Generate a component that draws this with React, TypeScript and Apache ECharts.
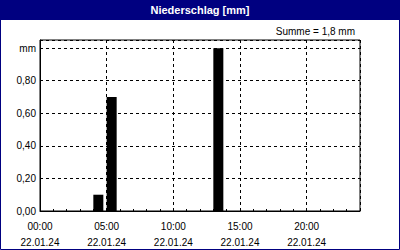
import React, { useEffect, useRef } from "react";
import * as echarts from "echarts";

const title = "Niederschlag [mm]";
const sumText = "Summe = 1,8 mm";
const barHours = [4, 5, 13];
const barValues = [0.1, 0.7, 1.0];
const dateLabel = "22.01.24";
const yUnit = "mm";

const FONT = "Liberation Sans, Arial, sans-serif";

export default function App() {
  const ref = useRef<HTMLDivElement>(null);
  useEffect(() => {
    if (!ref.current) return;
    const chart = echarts.init(ref.current, null, { renderer: "svg" });
    const pad = (n: number) => (n < 10 ? "0" + n : "" + n);
    chart.setOption({
      animation: false,
      backgroundColor: "#ffffff",
      textStyle: { fontFamily: FONT },
      graphic: [
        { type: "rect", shape: { x: 0, y: 0, width: 400, height: 20 }, style: { fill: "#000080" }, z: 10 },
        { type: "rect", shape: { x: 0.5, y: 0.5, width: 399, height: 249 }, style: { fill: "none", stroke: "#000080", lineWidth: 1 }, z: 10 },
        {
          type: "text", x: 200, y: 10, z: 11,
          style: { text: title, fill: "#ffffff", font: `bold 11px ${FONT}`, align: "center", verticalAlign: "middle" },
        },
        {
          type: "text", x: 355, y: 31, z: 11,
          style: { text: sumText, fill: "#000000", font: `10px ${FONT}`, align: "right", verticalAlign: "middle" },
        },
      ],
      grid: {
        left: 40, top: 40, width: 320, height: 171,
        show: true, borderColor: "#000", borderWidth: 1, backgroundColor: "transparent",
      },
      xAxis: [
        {
          type: "value", min: 0, max: 24, interval: 5,
          axisLine: { show: true, lineStyle: { color: "#000" } },
          axisTick: { show: false },
          splitLine: { show: true, lineStyle: { color: "#000", type: [3, 3], width: 1 } },
          axisLabel: {
            color: "#000", fontSize: 10, fontFamily: FONT, margin: 7, lineHeight: 16,
            showMaxLabel: false,
            formatter: (v: number) => (v % 5 === 0 && v < 24 ? `${pad(v)}:00\n${dateLabel}` : ""),
          },
        },
        {
          type: "value", min: 0, max: 24, interval: 1, position: "bottom",
          axisLine: { show: false },
          axisTick: { show: true, inside: true, length: 2, lineStyle: { color: "#000" } },
          splitLine: { show: false },
          axisLabel: { show: false },
        },
      ],
      yAxis: {
        type: "value", min: 0, max: 1.05, interval: 0.2,
        axisLine: { show: true, lineStyle: { color: "#000" } },
        axisTick: { show: false },
        splitLine: { show: true, lineStyle: { color: "#000", type: [3, 3], width: 1 } },
        axisLabel: {
          color: "#000", fontSize: 10, fontFamily: FONT, margin: 4,
          showMaxLabel: false,
          formatter: (v: number) => {
            if (Math.abs(v - 1) < 1e-6) return yUnit;
            if (v > 1) return "";
            return v.toFixed(2).replace(".", ",");
          },
        },
      },
      series: [
        {
          type: "bar",
          xAxisIndex: 0,
          barWidth: 10,
          itemStyle: { color: "#000" },
          data: barHours.map((h, i) => [h + 0.375, barValues[i]]),
        },
      ],
    });
    return () => chart.dispose();
  }, []);
  return <div ref={ref} style={{ position: "fixed", left: 0, top: 0, width: 400, height: 250 }} />;
}
